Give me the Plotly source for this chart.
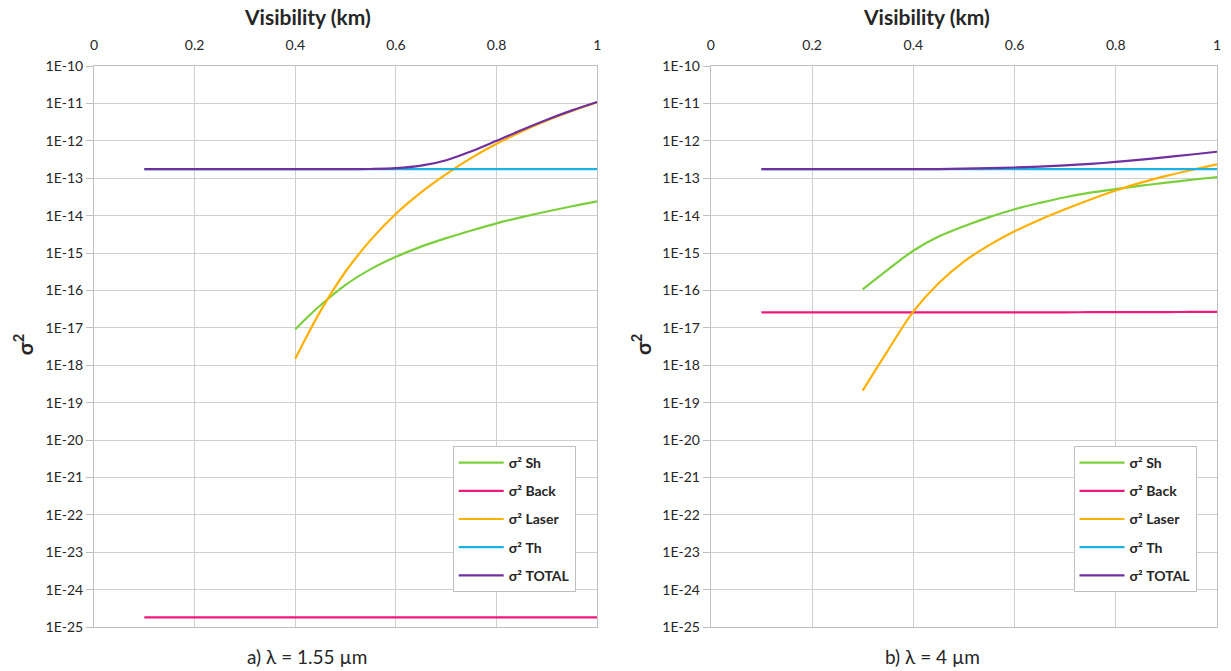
import plotly.graph_objects as go

# ---------------- data: panel a) lambda = 1.55 um ----------------
vis_a_full = [0.10, 0.20, 0.30, 0.40, 0.45, 0.50, 0.55, 0.60, 0.65, 0.70, 0.75, 0.80, 0.85, 0.90, 0.95, 1.00]
th_a = [1.74e-13] * 16
back_a = [1.8e-25] * 16
total_a = [1.74e-13, 1.74e-13, 1.74e-13, 1.74e-13, 1.74e-13, 1.74e-13, 1.76e-13, 1.85e-13,
           2.16e-13, 3.03e-13, 5.24e-13, 1.0e-12, 1.95e-12, 3.67e-12, 6.5e-12, 1.09e-11]

vis_a_part = [0.40, 0.42, 0.45, 0.50, 0.55, 0.60, 0.65, 0.70, 0.75, 0.80, 0.85, 0.90, 0.95, 1.00]
sh_a = [9.1e-18, 1.7e-17, 4.0e-17, 1.41e-16, 3.7e-16, 7.9e-16, 1.48e-15, 2.5e-15,
        4.0e-15, 6.2e-15, 9.1e-15, 1.29e-14, 1.78e-14, 2.4e-14]
laser_a = [1.48e-18, 5.0e-18, 2.8e-17, 3.2e-16, 2.24e-15, 1.12e-14, 4.2e-14, 1.29e-13,
           3.5e-13, 8.3e-13, 1.78e-12, 3.5e-12, 6.3e-12, 1.07e-11]

# ---------------- data: panel b) lambda = 4 um ----------------
vis_b_full = [0.10, 0.20, 0.30, 0.40, 0.45, 0.50, 0.55, 0.60, 0.65, 0.70, 0.75, 0.80, 0.85, 0.90, 0.95, 1.00]
th_b = [1.74e-13] * 16
back_b = [2.57e-17, 2.57e-17, 2.57e-17, 2.57e-17, 2.57e-17, 2.58e-17, 2.58e-17, 2.58e-17,
          2.59e-17, 2.60e-17, 2.61e-17, 2.62e-17, 2.63e-17, 2.64e-17, 2.65e-17, 2.66e-17]
total_b = [1.74e-13, 1.74e-13, 1.74e-13, 1.745e-13, 1.75e-13, 1.8e-13, 1.85e-13, 1.93e-13,
           2.04e-13, 2.2e-13, 2.42e-13, 2.72e-13, 3.13e-13, 3.65e-13, 4.3e-13, 5.1e-13]

vis_b_part = [0.30, 0.35, 0.40, 0.45, 0.50, 0.55, 0.60, 0.65, 0.70, 0.75, 0.80, 0.85, 0.90, 0.95, 1.00]
sh_b = [1.07e-16, 3.6e-16, 1.15e-15, 2.75e-15, 5.2e-15, 9.1e-15, 1.48e-14, 2.19e-14,
        3.1e-14, 4.1e-14, 5.1e-14, 6.3e-14, 7.6e-14, 9.1e-14, 1.07e-13]
laser_b = [2.1e-19, 2.5e-18, 2.7e-17, 1.55e-16, 5.9e-16, 1.62e-15, 3.8e-15, 7.8e-15,
           1.48e-14, 2.7e-14, 4.7e-14, 7.6e-14, 1.15e-13, 1.66e-13, 2.34e-13]

series_names = ["σ² Sh", "σ² Back", "σ² Laser", "σ² Th", "σ² TOTAL"]
series_colors = ["#7ccf3c", "#f0187c", "#ffb000", "#1bb3e3", "#7030a0"]

y_ticks = [10.0 ** -k for k in range(10, 26)]
y_ticktext = ["1E-%d" % k for k in range(10, 26)]
x_ticks = [0, 0.2, 0.4, 0.6, 0.8, 1]
x_ticktext = ["0", "0.2", "0.4", "0.6", "0.8", "1"]

FONT = "Lato, 'Open Sans', sans-serif"
TXT = "#262626"
GRID = "#d0d0d0"

fig = go.Figure()

panels = [
    ("x", "y", "legend", vis_a_full, vis_a_part, sh_a, back_a, laser_a, th_a, total_a),
    ("x2", "y2", "legend2", vis_b_full, vis_b_part, sh_b, back_b, laser_b, th_b, total_b),
]
for xa, ya, lg, vfull, vpart, sh, back, laser, th, total in panels:
    data = [(vpart, sh), (vfull, back), (vpart, laser), (vfull, th), (vfull, total)]
    for i, (xs, ys) in enumerate(data):
        fig.add_trace(go.Scatter(
            x=xs, y=ys, mode="lines", name=series_names[i],
            line=dict(color=series_colors[i], width=2.2, shape="spline", smoothing=1.0),
            xaxis=xa, yaxis=ya, legend=lg, legendgroup=lg + str(i), showlegend=True,
            hoverinfo="skip",
        ))

W, H = 1231, 671
ml, mr, mt, mb = 94, 10, 66, 44
pw = W - ml - mr
ph = H - mt - mb


def px_x(p):
    return (p - ml) / pw


def px_y(p):
    return 1 - (p - mt) / ph


xaxis_common = dict(
    range=[0, 1], side="top", tickvals=x_ticks, ticktext=x_ticktext,
    showgrid=True, gridcolor=GRID, gridwidth=1, zeroline=False,
    showline=True, linecolor="#bfbfbf", linewidth=1, mirror=True,
    ticks="outside", ticklen=9, tickcolor="rgba(0,0,0,0)",
    tickfont=dict(family=FONT, size=14, color=TXT),
)
yaxis_common = dict(
    type="log", range=[-25, -10], tickvals=y_ticks, ticktext=y_ticktext,
    showgrid=True, gridcolor=GRID, gridwidth=1, zeroline=False,
    showline=True, linecolor="#bfbfbf", linewidth=1, mirror=True,
    ticks="outside", ticklen=7, tickcolor="#bfbfbf",
    tickfont=dict(family=FONT, size=14, color=TXT),
)

legend_common = dict(
    bgcolor="white", bordercolor="#bfbfbf", borderwidth=1,
    font=dict(family=FONT, size=14, color=TXT, weight="bold"),
    tracegroupgap=7, itemwidth=45, xanchor="left", yanchor="top", itemclick=False,
)

fig.update_layout(
    width=W, height=H,
    margin=dict(l=ml, r=mr, t=mt, b=mb),
    paper_bgcolor="white", plot_bgcolor="white",
    font=dict(family=FONT, color=TXT),
    xaxis=dict(domain=[0, px_x(599)], anchor="y", **xaxis_common),
    yaxis=dict(domain=[0, 1], anchor="x", **yaxis_common),
    xaxis2=dict(domain=[px_x(713), 1], anchor="y2", **xaxis_common),
    yaxis2=dict(domain=[0, 1], anchor="x2", **yaxis_common),
    legend=dict(x=px_x(454), y=px_y(446), **legend_common),
    legend2=dict(x=px_x(1077), y=px_y(446), **legend_common),
    showlegend=True,
)

annotations = [
    dict(text="<b>Visibility (km)</b>", x=px_x(308), y=px_y(16), font=dict(size=21)),
    dict(text="<b>Visibility (km)</b>", x=px_x(929), y=px_y(16), font=dict(size=21)),
    dict(text="a) λ = 1.55 µm", x=px_x(308), y=px_y(656), font=dict(size=19)),
    dict(text="b) λ = 4 µm", x=px_x(935), y=px_y(656), font=dict(size=19)),
    dict(text="<b>σ<sup>2</sup></b>", x=px_x(23), y=px_y(345), textangle=-90, font=dict(size=21)),
    dict(text="<b>σ<sup>2</sup></b>", x=px_x(643), y=px_y(345), textangle=-90, font=dict(size=21)),
]
for a in annotations:
    a.update(xref="paper", yref="paper", showarrow=False, xanchor="center", yanchor="middle")
    a["font"].update(family=FONT, color=TXT)
fig.update_layout(annotations=annotations)

fig.write_html(
    "out.html",
    config={"displayModeBar": False},
    post_script="document.body.style.margin='0';document.body.style.overflow='hidden';",
)
